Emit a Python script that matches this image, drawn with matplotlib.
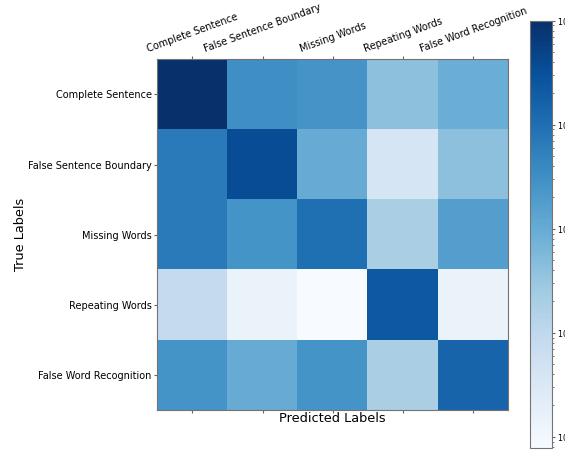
import numpy as np
import matplotlib
matplotlib.use("Agg")
import matplotlib.pyplot as plt
from matplotlib.colors import LogNorm

# Class names
labels = ["Complete Sentence", "False Sentence Boundary", "Missing Words",
          "Repeating Words", "False Word Recognition"]

# Confusion matrix values
row_complete = [1.0, 0.032, 0.025, 0.004, 0.0089]
row_boundary = [0.066, 0.35, 0.0097, 0.00038, 0.004]
row_missing = [0.066, 0.026, 0.10, 0.0019, 0.017]
row_repeating = [0.00083, 0.000145, 0.000078, 0.23, 0.000145]
row_recognition = [0.026, 0.0097, 0.026, 0.0019, 0.15]

cm = np.array([row_complete, row_boundary, row_missing, row_repeating, row_recognition])

fig = plt.figure(figsize=(5.65, 4.5), dpi=100)
ax = fig.add_axes([0.2784, 0.0889, 0.6212, 0.7793])
cax = fig.add_axes([0.938, 0.0044, 0.0384, 0.9496])

im = ax.imshow(cm, cmap="Blues", norm=LogNorm(vmin=cm.min(), vmax=cm.max()), aspect="auto")

ticks = np.arange(len(labels))
ax.set_xticks(ticks)
ax.set_yticks(ticks)
ax.set_xticklabels(labels, rotation=20, ha="center", fontsize=7)
ax.set_yticklabels(labels, fontsize=7)
ax.tick_params(top=True, labeltop=True, bottom=True, labelbottom=False,
               length=2, pad=2, color="0.4")

ax.set_xlabel("Predicted Labels", fontsize=9.3)
ax.xaxis.set_label_coords(0.5, -0.005)
ax.xaxis.label.set_va("top")
ax.set_ylabel("True Labels", fontsize=9.3)
ax.yaxis.set_label_coords(-0.371, 0.5)

for s in ax.spines.values():
    s.set_color("0.45")

cb = fig.colorbar(im, cax=cax)
cb.outline.set_edgecolor("0.45")
cb.ax.tick_params(labelsize=5.8, length=2, pad=2, color="0.4")
cb.ax.tick_params(which="minor", length=1.2, color="0.4")

fig.savefig("out.png", dpi=100)
